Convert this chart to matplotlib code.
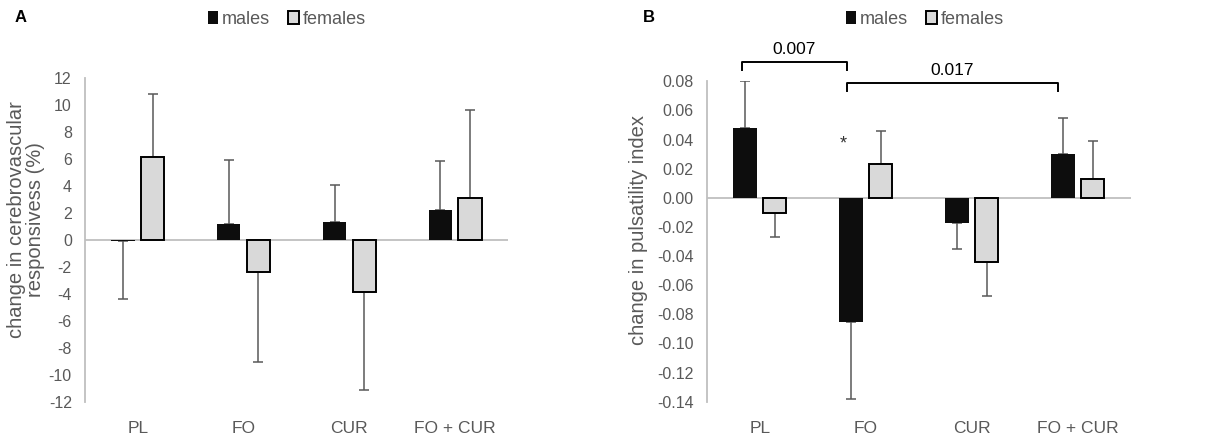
import matplotlib
matplotlib.use("Agg")
import matplotlib.pyplot as plt
import numpy as np

plt.rcParams['font.family'] = ['Liberation Sans', 'DejaVu Sans']
plt.rcParams['axes.unicode_minus'] = False

categories = ['PL', 'FO', 'CUR', 'FO + CUR']

# panel A: change in cerebrovascular responsiveness (%)
cvr_males = [-0.1, 1.2, 1.3, 2.25]
cvr_females = [6.15, -2.35, -3.85, 3.1]
cvr_males_err = [4.3, 4.75, 2.75, 3.6]
cvr_females_err = [4.7, 6.7, 7.25, 6.55]

# panel B: change in pulsatility index
pi_males = [0.048, -0.085, -0.017, 0.030]
pi_females = [-0.0105, 0.0235, -0.0443, 0.0128]
pi_males_err = [0.032, 0.053, 0.018, 0.025]
pi_females_err = [0.0167, 0.0225, 0.023, 0.026]

TXT = '#595959'
AXC = '#bfbfbf'
MALE = '#0d0d0d'
FEMALE = '#d9d9d9'


def draw_panel(ax, males, females, merr, ferr, ylim, yticks, fmt):
    x = np.arange(len(categories))
    off = 0.14
    w = 0.22
    bm = ax.bar(x - off, males, w, color=MALE, linewidth=0, zorder=3, label='males')
    bf = ax.bar(x + off, females, w, color=FEMALE, edgecolor='black', linewidth=1.4, zorder=3, label='females')
    # one-sided error bars, away from zero
    for xs, vals, errs in [(x - off, males, merr), (x + off, females, ferr)]:
        for xi, v, e in zip(xs, vals, errs):
            if v >= 0:
                yerr = [[0], [e]]
            else:
                yerr = [[e], [0]]
            ax.errorbar(xi, v, yerr=yerr, fmt='none', ecolor=TXT, elinewidth=1.1,
                        capsize=3.6, capthick=1.1, zorder=2)
    ax.axhline(0, color=AXC, linewidth=1.3, zorder=1)
    ax.set_xlim(-0.5, len(categories) - 0.5)
    ax.set_ylim(*ylim)
    ax.set_yticks(yticks)
    ax.set_yticklabels([fmt.format(t) for t in yticks])
    ax.set_xticks(x)
    ax.set_xticklabels(categories, fontsize=12.5)
    ax.tick_params(axis='x', length=0, pad=14, colors=TXT)
    ax.tick_params(axis='y', length=0, pad=9.5, colors=TXT, labelsize=11.5)
    for s in ['top', 'right', 'bottom']:
        ax.spines[s].set_visible(False)
    ax.spines['left'].set_color(AXC)
    ax.spines['left'].set_linewidth(1.3)
    return bm, bf


W, H = 1220, 445
fig = plt.figure(figsize=(W / 100, H / 100), dpi=100)
axA = fig.add_axes([0.0697, 0.0966, 0.3467, 0.728])
axB = fig.add_axes([0.5793, 0.0973, 0.3475, 0.72])

bm, bf = draw_panel(axA, cvr_males, cvr_females, cvr_males_err, cvr_females_err,
                    (-12, 12), np.arange(-12, 13, 2), '{:.0f}')
draw_panel(axB, pi_males, pi_females, pi_males_err, pi_females_err,
           (-0.14, 0.08), np.round(np.arange(-0.14, 0.0801, 0.02), 2), '{:.2f}')

fig.text(26 / W, 1 - 220 / H, 'change in cerebrovascular\nresponsivess (%)', rotation=90,
         ha='center', va='center', fontsize=14.5, color=TXT, linespacing=0.95)
fig.text(639 / W, 1 - 230 / H, 'change in pulsatility index', rotation=90,
         ha='center', va='center', fontsize=14.5, color=TXT)

for cx in [0.235, 0.758]:
    fig.legend([bm, bf], ['males', 'females'], loc='center', bbox_to_anchor=(cx, 0.957),
               ncol=2, frameon=False, fontsize=13, handlelength=0.6, handleheight=0.75,
               handletextpad=0.2, columnspacing=1.0, labelcolor=TXT)

fig.text(0.012, 0.96, 'A', fontsize=12, fontweight='bold', va='center')
fig.text(0.527, 0.96, 'B', fontsize=12, fontweight='bold', va='center')

# significance brackets in panel B (between male bars)
def bracket(ax, x1, x2, y, h, label, ty):
    ax.plot([x1, x1, x2, x2], [y - h, y, y, y - h], color='black', linewidth=1.4, clip_on=False)
    ax.text((x1 + x2) / 2, ty, label, ha='center', va='center', fontsize=12.5, color='black')

bracket(axB, -0.17, 0.82, 0.0935, 0.006, '0.007', 0.102)
bracket(axB, 0.82, 2.81, 0.0786, 0.0053, '0.017', 0.0875)
axB.text(0.79, 0.0370, '*', ha='center', va='center', fontsize=13, color='#333333')

fig.savefig('out.png', dpi=100)
